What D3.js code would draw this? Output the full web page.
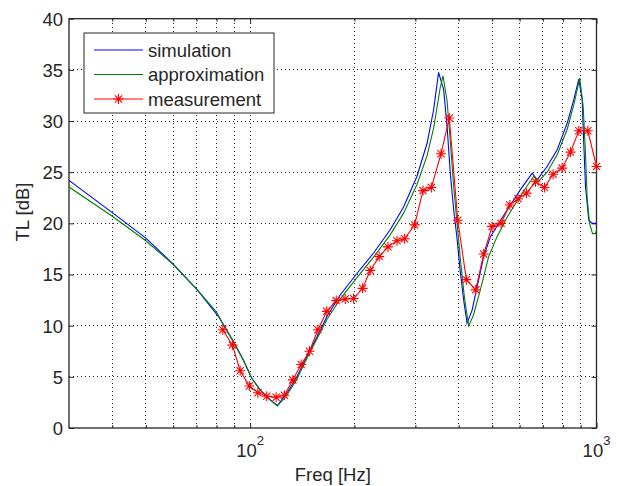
<!DOCTYPE html>
<html><head><meta charset="utf-8">
<script src="https://cdn.jsdelivr.net/npm/d3@7"></script>
<style>
body{margin:0;background:#fff}
svg{display:block}
text{font-family:Arial,"Liberation Sans",Helvetica,sans-serif;fill:#262626}
</style>
</head><body>
<svg id="c" width="618" height="486"></svg>
<script>
// ---- data ----
const simFreq = [30,40,50,59.9,70.4,81.7,89.5,95.6,101.1,106.9,112.9,119.9,127.7,136.5,145.8,155.9,166.6,182,203.4,227.2,254,277.4,303.2,324.1,338.7,350,362,370.3,378.4,387,395.8,402.7,413.6,423,437.2,452.1,472.4,494,552,603,652,674,720,770,823,860,889,909,919,929.4,950,972,1000];
const simTL = [24.2,21.05,18.55,16.05,13.5,10.73,8.44,6.65,4.86,3.72,2.9,2.2,3.4,5.0,7.0,8.9,10.9,13.0,15.1,17.1,19.4,21.6,24.6,27.8,31.1,34.75,33.06,29.5,24.9,21.3,18.5,15.8,12.5,10.24,11.5,13.8,16.75,18.7,21.3,23.3,24.9,24.25,25.55,27.2,29.8,32.1,34.1,32.1,27.8,23.6,20.3,20.0,20.0];

const apprFreq = [30,40,50,59.9,70.4,80.1,83.7,89.5,95.6,101.1,106.9,112.9,119.9,127.7,136.5,145.8,155.9,166.6,182,203.4,227.2,254,277.4,303.2,324.1,338.7,354,360.5,370.3,378.4,387,395.8,404.5,415.5,427.5,441,462,488.3,516.4,552,603,659,680,720,770,823,860,894.5,915,927.6,940,954.5,974,993,1000];
const apprTL = [23.55,20.7,18.3,16.0,13.5,11.3,10.07,8.44,6.65,4.86,3.72,2.9,2.15,3.2,4.8,6.8,8.7,10.6,12.6,14.7,16.7,18.9,21.0,23.8,26.6,29.3,33.3,34.4,32.0,28.0,23.6,20.0,16.5,12.8,9.98,11.0,13.5,16.75,18.7,20.6,22.7,24.6,24.1,25.0,26.7,29.2,31.6,34.2,31.5,27.5,22.5,20.0,19.0,19.0,19.3];

const measFreq = [83.4,88.9,93.6,99.5,105.3,111.7,118.9,125.6,132.8,140.4,148.4,156.9,166.5,177.3,188.2,198.9,211.2,222.2,235.9,250,265.5,279.3,298.5,315.6,333.6,355.7,375.9,397.6,421,448,472.5,499.5,530.3,562,593.8,627.9,666.6,707.5,749.5,795.8,841.3,889,944,1000];
const measTL = [9.6,8.1,5.6,4.1,3.45,3.1,3.0,3.2,4.7,6.2,7.5,9.6,11.4,12.45,12.6,12.65,13.65,15.4,16.75,17.7,18.3,18.5,19.85,23.2,23.5,26.8,30.3,20.3,14.5,13.5,17.0,19.7,20.0,21.8,22.4,22.95,24.06,23.5,24.8,25.4,26.96,29.05,29.05,25.55];

const seriesNames = ["simulation","approximation","measurement"];
const seriesColors = ["#0000ff","#008000","#ff0000"];
const yTicks = [0,5,10,15,20,25,30,35,40];
const xMajor = [100,1000];
const xMajorExp = ["2","3"];
const xMinor = [40,50,60,70,80,90,200,300,400,500,600,700,800,900];
const xLabel = "Freq [Hz]";
const yLabel = "TL [dB]";

// ---- layout ----
const L = 69, R = 596.5, T = 18.7, B = 428;
const svg = d3.select("#c");
svg.append("rect").attr("width",618).attr("height",486).attr("fill","#fff");

const x = d3.scaleLog().domain([30,1000]).range([L,R]);
const y = d3.scaleLinear().domain([0,40]).range([B,T]);

// grid
const g = svg.append("g");
const gridColor = "#262626";
g.selectAll("line.gx").data(xMinor.concat([100])).join("line")
  .attr("x1",d=>x(d)).attr("x2",d=>x(d)).attr("y1",B).attr("y2",T)
  .attr("stroke",gridColor).attr("stroke-width",1).attr("stroke-dasharray","1,3")
  .attr("shape-rendering","crispEdges");
g.selectAll("line.gy").data(yTicks.filter(d=>d>0&&d<40)).join("line")
  .attr("x1",L).attr("x2",R).attr("y1",d=>y(d)).attr("y2",d=>y(d))
  .attr("stroke",gridColor).attr("stroke-width",1).attr("stroke-dasharray","1,3")
  .attr("shape-rendering","crispEdges");

// axes
function styleAxis(sel){
  sel.select(".domain").remove();
  sel.selectAll("line").attr("stroke","#262626").attr("stroke-width",1);
  sel.selectAll("text").attr("font-size",18.5).attr("fill","#262626")
     .attr("font-family","Arial, 'Liberation Sans', sans-serif");
}
const ax = svg.append("g").attr("transform",`translate(${L},0)`)
  .call(d3.axisLeft(y).tickValues(yTicks).tickSizeInner(-5).tickSizeOuter(0).tickPadding(6).tickFormat(d3.format("d")));
styleAxis(ax);
ax.selectAll("text").attr("dy","0.35em");
const axR = svg.append("g").attr("transform",`translate(${R},0)`)
  .call(d3.axisRight(y).tickValues(yTicks).tickSizeInner(-5).tickSizeOuter(0).tickFormat(""));
styleAxis(axR);
const axB = svg.append("g").attr("transform",`translate(0,${B})`)
  .call(d3.axisBottom(x).tickValues(xMajor).tickSizeInner(-5).tickSizeOuter(0).tickFormat(""));
styleAxis(axB);
const axBm = svg.append("g").attr("transform",`translate(0,${B})`)
  .call(d3.axisBottom(x).tickValues(xMinor).tickSizeInner(-3).tickSizeOuter(0).tickFormat(""));
styleAxis(axBm);
const axT = svg.append("g").attr("transform",`translate(0,${T})`)
  .call(d3.axisTop(x).tickValues(xMajor).tickSizeInner(-5).tickSizeOuter(0).tickFormat(""));
styleAxis(axT);
const axTm = svg.append("g").attr("transform",`translate(0,${T})`)
  .call(d3.axisTop(x).tickValues(xMinor).tickSizeInner(-3).tickSizeOuter(0).tickFormat(""));
styleAxis(axTm);

// x major labels 10^n
xMajor.forEach((v,i)=>{
  const t = svg.append("text").attr("x",x(v)).attr("y",457).attr("text-anchor","middle")
    .attr("font-size",18.5);
  t.append("tspan").text("10");
  t.append("tspan").attr("font-size",13).attr("dy",-12).text(xMajorExp[i]);
});

// box
svg.append("rect").attr("x",L).attr("y",T).attr("width",R-L).attr("height",B-T)
  .attr("fill","none").attr("stroke","#262626").attr("stroke-width",1.3);

// axis labels
svg.append("text").attr("x",(L+R)/2).attr("y",481).attr("text-anchor","middle")
  .attr("font-size",18.5).text(xLabel);
svg.append("text").attr("transform","translate(29,212) rotate(-90)").attr("text-anchor","middle")
  .attr("font-size",18.5).text(yLabel);

// clip
svg.append("clipPath").attr("id","clip").append("rect")
  .attr("x",L).attr("y",T).attr("width",R-L).attr("height",B-T);
const plot = svg.append("g").attr("clip-path","url(#clip)");

const line = d3.line().x(d=>x(d[0])).y(d=>y(d[1]));
const sim = simFreq.map((f,i)=>[f,simTL[i]]);
const appr = apprFreq.map((f,i)=>[f,apprTL[i]]);
const meas = measFreq.map((f,i)=>[f,measTL[i]]);

plot.append("path").attr("d",line(sim)).attr("fill","none").attr("stroke",seriesColors[0]).attr("stroke-width",1.1);
plot.append("path").attr("d",line(appr)).attr("fill","none").attr("stroke",seriesColors[1]).attr("stroke-width",1.1);
plot.append("path").attr("d",line(meas)).attr("fill","none").attr("stroke",seriesColors[2]).attr("stroke-width",1.1);

const star = "M-5,0H5M0,-5V5M-3.6,-3.6L3.6,3.6M-3.6,3.6L3.6,-3.6";
svg.append("g").selectAll("path").data(meas).join("path")
  .attr("transform",d=>`translate(${x(d[0])},${y(d[1])})`)
  .attr("d",star).attr("fill","none").attr("stroke",seriesColors[2]).attr("stroke-width",1.1);

// legend
const lg = svg.append("g");
lg.append("rect").attr("x",84).attr("y",33).attr("width",190).attr("height",80)
  .attr("fill","#fff").attr("stroke","#262626").attr("stroke-width",1);
const rowY = [50,74.5,99];
seriesNames.forEach((n,i)=>{
  lg.append("line").attr("x1",94).attr("x2",143).attr("y1",rowY[i]).attr("y2",rowY[i])
    .attr("stroke",seriesColors[i]).attr("stroke-width",1.1);
  if(i===2){
    lg.append("path").attr("transform",`translate(118.5,${rowY[i]})`).attr("d",star)
      .attr("fill","none").attr("stroke",seriesColors[i]).attr("stroke-width",1.1);
  }
  lg.append("text").attr("x",148).attr("y",rowY[i]+6.6).attr("font-size",18.5).text(n);
});
</script>
</body></html>
